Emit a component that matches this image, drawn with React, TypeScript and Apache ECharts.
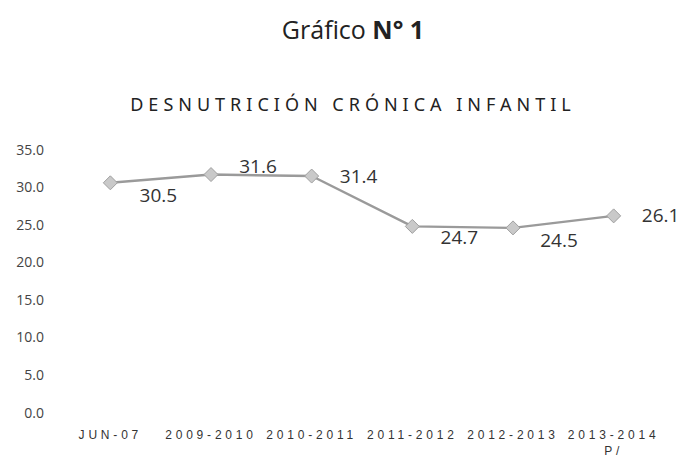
import React, { useEffect, useRef } from "react";
import * as echarts from "echarts";

const titleText = "Gráfico N° 1";
const subtitleText = "DESNUTRICIÓN CRÓNICA INFANTIL";
const categories = ["JUN-07", "2009-2010", "2010-2011", "2011-2012", "2012-2013", "2013-2014\nP/"];
const values = [30.5, 31.6, 31.4, 24.7, 24.5, 26.1];
const yTicks = { min: 0, max: 35, interval: 5 };

// label offsets (style only)
const labelOffsets: [number, number][] = [
  [48, 12],
  [47, -9],
  [47, 0],
  [47, 11],
  [46, 12],
  [47, -1],
];

export default function App() {
  const ref = useRef<HTMLDivElement>(null);
  useEffect(() => {
    if (!ref.current) return;
    const chart = echarts.init(ref.current, undefined, { renderer: "svg" });
    chart.setOption({
      animation: false,
      backgroundColor: "#ffffff",
      title: [
        {
          text: "{a|Gráfico }{b|N° 1}",
          left: 348,
          top: 11,
          textAlign: "center",
          textStyle: {
            rich: {
              a: { fontFamily: "Open Sans", fontSize: 25, fontWeight: 500, color: "#222" },
              b: { fontFamily: "Open Sans", fontSize: 25, fontWeight: "bold", color: "#222" },
            },
          },
        },
        {
          text: subtitleText,
          left: 348,
          top: 90,
          textAlign: "center",
          textStyle: { fontFamily: "Noto Sans", fontSize: 18, fontWeight: "normal", color: "#222" },
        },
      ],
      grid: { left: 60, right: 22, top: 149, bottom: 42, containLabel: false },
      xAxis: {
        type: "category",
        data: categories,
        boundaryGap: true,
        axisLine: { show: false },
        axisTick: { show: false },
        axisLabel: {
          interval: 0,
          margin: 15,
          fontFamily: "Liberation Sans",
          fontSize: 12,
          color: "#333",
          lineHeight: 16,
        },
      },
      yAxis: {
        type: "value",
        min: yTicks.min,
        max: yTicks.max,
        interval: yTicks.interval,
        axisLine: { show: false },
        axisTick: { show: false },
        splitLine: { show: false },
        axisLabel: {
          margin: 16,
          fontFamily: "Open Sans",
          fontSize: 14,
          color: "#444",
          formatter: (v: number) => v.toFixed(1),
        },
      },
      series: [
        {
          type: "line",
          data: values.map((v, i) => ({
            value: v,
            label: { offset: labelOffsets[i] },
          })),
          lineStyle: { color: "#9a9a9a", width: 2.4 },
          symbol: "diamond",
          symbolSize: [14, 14],
          itemStyle: { color: "#c9c9c9", borderColor: "#a0a0a0", borderWidth: 1 },
          label: {
            show: true,
            position: "inside",
            fontFamily: "Open Sans",
            fontSize: 19,
            color: "#333",
            formatter: (p: any) => Number(p.value).toFixed(1),
          },
        },
      ],
    });
    return () => chart.dispose();
  }, []);
  return (
    <>
      <style>{`
        .chartbox text[style*="Noto Sans"] { letter-spacing: 5px; }
        .chartbox text[style*="Liberation Sans"] { letter-spacing: 3.8px; }
      `}</style>
      <div
        ref={ref}
        className="chartbox"
        style={{ position: "fixed", left: 0, top: 0, width: 686, height: 459 }}
      />
    </>
  );
}
